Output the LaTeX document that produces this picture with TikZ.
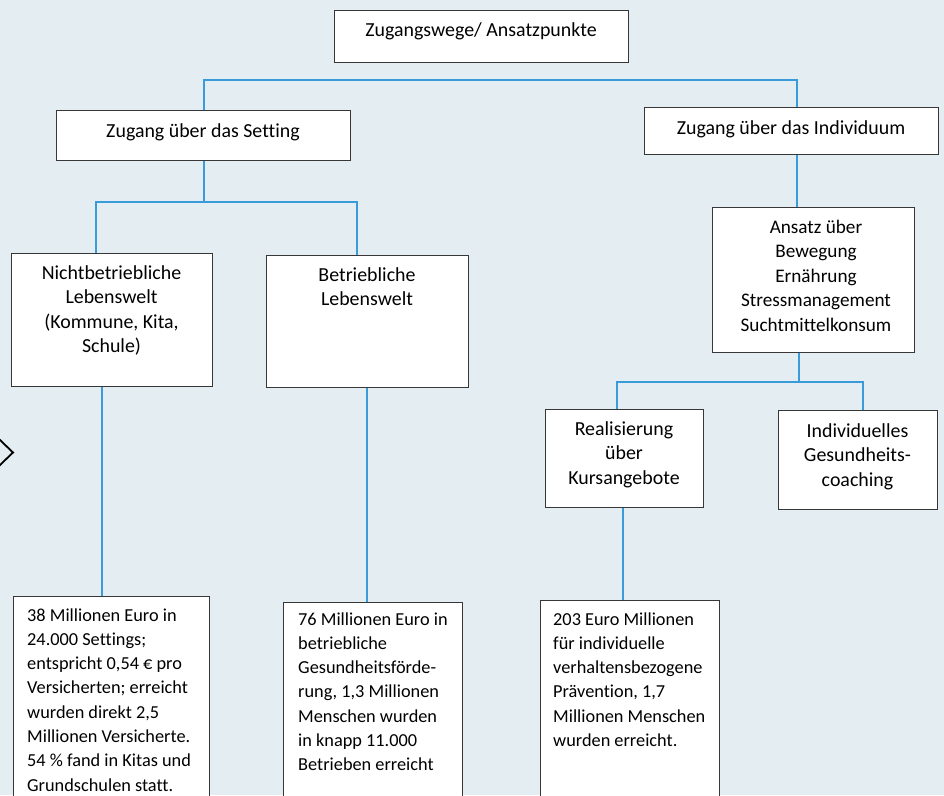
\documentclass[tikz,border=0pt]{standalone}
\usepackage{fontspec}
\setmainfont{Carlito}[Ligatures=NoCommon]
\definecolor{bgc}{RGB}{228,237,241}
\definecolor{linkc}{RGB}{58,155,218}
\definecolor{framec}{RGB}{55,55,55}
\tikzset{
  box/.style={draw=framec, line width=1.3pt, fill=white, inner sep=0pt, anchor=north west},
  conn/.style={draw=linkc, line width=1.2pt},
  ctxt/.style={inner sep=0pt, anchor=base, font=\fontsize{19.9}{24.5}\selectfont},
  stxt/.style={inner sep=0pt, anchor=base, font=\fontsize{19.2}{24.5}\selectfont},
  ltxt/.style={inner sep=0pt, anchor=base west, font=\fontsize{18.3}{24.3}\selectfont},
}
\newcommand{\ccol}[1]{\begin{tabular}[t]{@{}c@{}}#1\end{tabular}}
\newcommand{\lcol}[1]{\begin{tabular}[t]{@{}l@{}}#1\end{tabular}}
\begin{document}
\begin{tikzpicture}[x=1pt,y=-1pt]
\fill[bgc] (0,0) rectangle (944,795);
\clip (0,0) rectangle (944,795);

% boxes
\node[box, minimum width=294pt, minimum height=52pt] (top) at (334,10) {};
\node[box, minimum width=294pt, minimum height=50pt] (set) at (56,110) {};
\node[box, minimum width=294pt, minimum height=47pt] (ind) at (644,107) {};
\node[box, minimum width=201pt, minimum height=133pt] (nb) at (11,253) {};
\node[box, minimum width=202pt, minimum height=132pt] (bl) at (266,255) {};
\node[box, minimum width=202pt, minimum height=145pt] (ans) at (712,207) {};
\node[box, minimum width=158pt, minimum height=98pt] (real) at (545,409) {};
\node[box, minimum width=159pt, minimum height=99pt] (coach) at (778,410) {};
\node[box, minimum width=196pt, minimum height=230pt] (b1) at (13,596) {};
\node[box, minimum width=179pt, minimum height=230pt] (b2) at (283,602) {};
\node[box, minimum width=179pt, minimum height=230pt] (b3) at (540,600) {};

% texts
\node[ctxt] (ttop) at (481,36) {Zugangswege/ Ansatzpunkte};
\node[ctxt] (tset) at (203,137) {Zugang über das Setting};
\node[ctxt] (tind) at (791,134) {Zugang über das Individuum};
\node[stxt] (tans) at (816,233) {\ccol{Ansatz über\\Bewegung\\Ernährung\\Stressmanagement\\Suchtmittelkonsum}};
\node[ctxt] (tnb) at (111.5,279) {\ccol{Nichtbetriebliche\\Lebenswelt\\(Kommune, Kita,\\Schule)}};
\node[ctxt] (tbl) at (367,281) {\ccol{Betriebliche\\Lebenswelt}};
\node[ctxt] (treal) at (624,435) {\ccol{Realisierung\\über\\Kursangebote}};
\node[ctxt] (tcoach) at (857.5,437) {\ccol{Individuelles\\Gesundheits-\\coaching}};
\node[ltxt] (tb1) at (27,621) {\lcol{38 Millionen Euro in\\24.000 Settings;\\entspricht 0,54 € pro\\Versicherten; erreicht\\wurden direkt 2,5\\Millionen Versicherte.\\54 \% fand in Kitas und\\Grundschulen statt.}};
\node[ltxt] (tb2) at (298,625) {\lcol{76 Millionen Euro in\\betriebliche\\Gesundheitsförde-\\rung, 1,3 Millionen\\Menschen wurden\\in knapp 11.000\\Betrieben erreicht}};
\node[ltxt] (tb3) at (553,625) {\lcol{203 Euro Millionen\\für individuelle\\verhaltensbezogene\\Prävention, 1,7\\Millionen Menschen\\wurden erreicht.}};

% junction points of the connectors
\coordinate (j1) at (204,80);
\coordinate (j2) at (797,80);
\coordinate (j3) at (96,202);
\coordinate (j4) at (357,202);
\coordinate (j5) at (102,0);
\coordinate (j6) at (367,0);
\coordinate (j7) at (797,0);
\coordinate (j8) at (617,382);
\coordinate (j9) at (863,382);
\coordinate (j10) at (799,382);
\coordinate (j11) at (623,0);
\coordinate (j12) at (204,202);

% connectors
\draw[conn] (j1 |- set.north) -- (j1) -- (j2) -- (j2 |- ind.north);
\draw[conn] (j12 |- set.south) -- (j12);
\draw[conn] (j3 |- nb.north) -- (j3) -- (j4) -- (j4 |- bl.north);
\draw[conn] (j5 |- nb.south) -- (j5 |- b1.north);
\draw[conn] (j6 |- bl.south) -- (j6 |- b2.north);
\draw[conn] (j7 |- ind.south) -- (j7 |- ans.north);
\draw[conn] (j10 |- ans.south) -- (j10);
\draw[conn] (j8 |- real.north) -- (j8) -- (j9) -- (j9 |- coach.north);
\draw[conn] (j11 |- real.south) -- (j11 |- b3.north);

% small diamond at the left edge
\draw[black, line width=1.8pt] (0,440) -- (13,452.5) -- (0,465) -- (-13,452.5) -- cycle;
\end{tikzpicture}
\end{document}
